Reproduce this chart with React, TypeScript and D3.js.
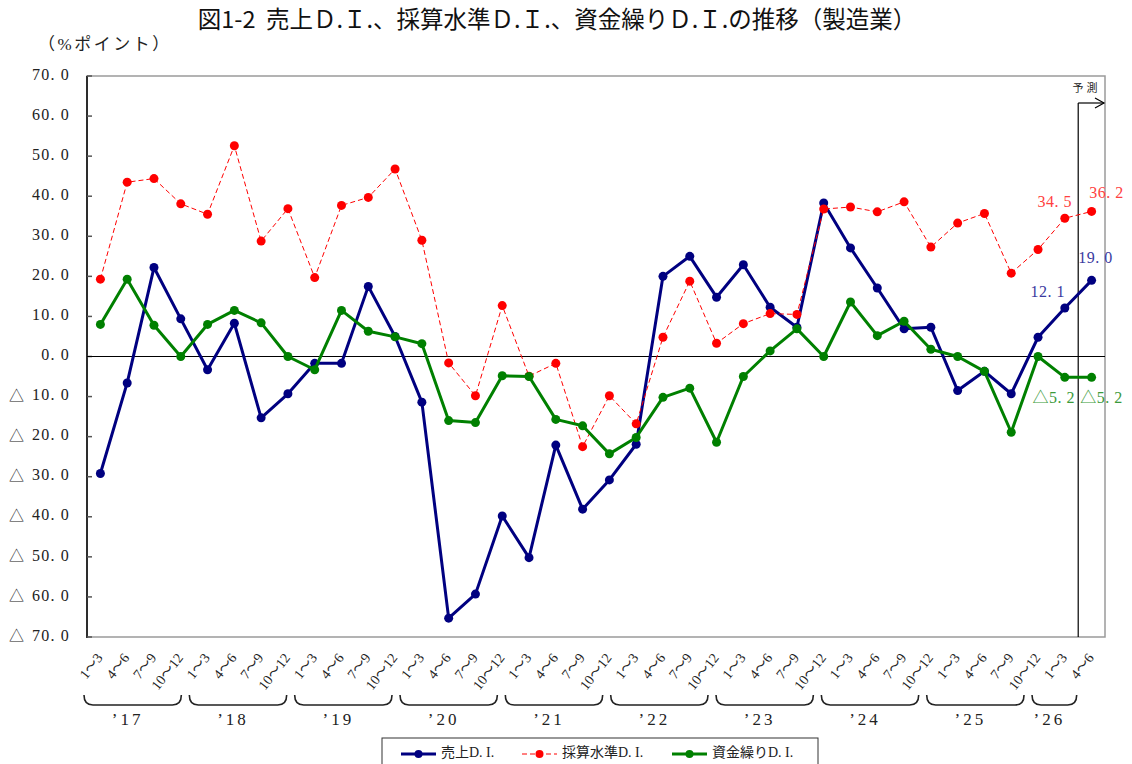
import React, { useEffect, useRef } from 'react';
import * as d3 from 'd3';

// 四半期・年（'26 は 1～3, 4～6 のみ）
const quarters = ['1～3', '4～6', '7～9', '10～12'];
const years = ['17', '18', '19', '20', '21', '22', '23', '24', '25', '26'];
const lastYearQuarters = 2;

// 売上D.I.
const salesDI = [
  -29.2, -6.6, 22.2, 9.4,
  -3.3, 8.3, -15.3, -9.3,
  -1.7, -1.7, 17.5, 5.0,
  -11.4, -65.3, -59.3, -39.8,
  -50.2, -22.1, -38.1, -30.8,
  -21.9, 20.0, 25.0, 14.8,
  22.9, 12.3, 7.3, 38.3,
  27.1, 17.1, 6.9, 7.3,
  -8.5, -3.7, -9.3, 4.8,
  12.1, 19.0,
];

// 採算水準D.I.
const profitDI = [
  19.3, 43.5, 44.4, 38.1,
  35.5, 52.6, 28.8, 36.9,
  19.7, 37.7, 39.7, 46.8,
  29.0, -1.6, -9.8, 12.7,
  -4.9, -1.7, -22.5, -9.8,
  -16.8, 4.8, 18.8, 3.3,
  8.2, 10.7, 10.5, 36.8,
  37.3, 36.1, 38.6, 27.3,
  33.3, 35.7, 20.8, 26.7,
  34.5, 36.2,
];

// 資金繰りD.I.
const cashDI = [
  8.0, 19.3, 7.8, 0.0,
  8.0, 11.5, 8.4, 0.0,
  -3.3, 11.5, 6.3, 4.9,
  3.2, -16.0, -16.5, -4.8,
  -5.0, -15.7, -17.3, -24.3,
  -20.2, -10.2, -7.9, -21.4,
  -5.0, 1.4, 6.9, 0.0,
  13.6, 5.2, 8.8, 1.8,
  0.0, -3.7, -18.9, 0.0,
  -5.2, -5.2,
];

const seriesNames = ['売上D.I.', '採算水準D.I.', '資金繰りD.I.'];
const forecastStart = 37; // 予測区間の最初の点

const fmt = (v: number) => (v < 0 ? '△' + Math.abs(v).toFixed(1) : v.toFixed(1));

const SERIF = '"Liberation Serif", "Noto Sans CJK JP", serif';
const GOTHIC = '"Noto Sans CJK JP", "Noto Sans", sans-serif';

export default function App() {
  const svgRef = useRef<SVGSVGElement | null>(null);

  useEffect(() => {
    document.body.style.margin = '0';
    if (!svgRef.current) return;
    const svg = d3.select(svgRef.current);
    svg.selectAll('*').remove();

    const width = 1132;
    const height = 764;
    const left = 87, right = 1105, top = 76, bottom = 637;

    svg.attr('width', width).attr('height', height).attr('viewBox', `0 0 ${width} ${height}`);
    svg.append('rect').attr('width', width).attr('height', height).attr('fill', '#fff');

    // カテゴリ
    const cats: { id: string; q: string; yi: number }[] = [];
    years.forEach((yr, yi) => {
      const n = yi === years.length - 1 ? lastYearQuarters : quarters.length;
      for (let k = 0; k < n; k++) cats.push({ id: `${yr}-${k}`, q: quarters[k], yi });
    });

    const x = d3.scaleBand<string>().domain(cats.map((c) => c.id)).range([left, right]);
    const bw = x.bandwidth();
    const cx = (i: number) => (x(cats[i].id) as number) + bw / 2;
    const y = d3.scaleLinear().domain([-70, 70]).range([bottom, top]);

    // 枠
    svg.append('rect')
      .attr('x', left).attr('y', top).attr('width', right - left).attr('height', bottom - top)
      .attr('fill', 'none').attr('stroke', '#9a9a9a').attr('stroke-width', 1.5);
    svg.append('line')
      .attr('x1', left).attr('x2', left).attr('y1', top).attr('y2', bottom + 1)
      .attr('stroke', '#000').attr('stroke-width', 1.5);

    // Y軸目盛
    const ticks = d3.range(-70, 71, 10);
    const yAxis = svg.append('g');
    ticks.forEach((t) => {
      yAxis.append('line')
        .attr('x1', left).attr('x2', left + 5).attr('y1', y(t)).attr('y2', y(t))
        .attr('stroke', '#555').attr('stroke-width', 1.5);
      yAxis.append('text')
        .attr('x', 70).attr('y', y(t)).attr('text-anchor', 'end').attr('dominant-baseline', 'middle')
        .attr('font-family', SERIF).attr('font-size', 16).attr('letter-spacing', 1.2).attr('fill', '#222')
        .text(Math.abs(t).toFixed(1).replace('.', '. '));
      if (t < 0) {
        yAxis.append('text')
          .attr('x', 9).attr('y', y(t)).attr('dominant-baseline', 'middle')
          .attr('font-family', GOTHIC).attr('font-size', 15).attr('fill', '#222')
          .text('△');
      }
    });

    svg.append('text')
      .attr('x', 38).attr('y', 46).attr('dominant-baseline', 'middle')
      .attr('font-family', SERIF).attr('font-size', 17).attr('letter-spacing', 2.5).attr('fill', '#222')
      .text('（%ポイント）');

    // ゼロ線
    svg.append('line')
      .attr('x1', left).attr('x2', right).attr('y1', y(0)).attr('y2', y(0))
      .attr('stroke', '#000').attr('stroke-width', 1);

    // 予測線
    const fx = x(cats[forecastStart].id) as number;
    const arrowY = 103;
    svg.append('line')
      .attr('x1', fx).attr('x2', fx).attr('y1', arrowY).attr('y2', bottom)
      .attr('stroke', '#000').attr('stroke-width', 1.2);
    svg.append('line')
      .attr('x1', fx).attr('x2', right - 1).attr('y1', arrowY).attr('y2', arrowY)
      .attr('stroke', '#000').attr('stroke-width', 1.2);
    svg.append('path')
      .attr('d', `M${right - 10},${arrowY - 5}L${right - 1},${arrowY}L${right - 10},${arrowY + 5}`)
      .attr('fill', 'none').attr('stroke', '#000').attr('stroke-width', 1.2);
    svg.append('text')
      .attr('x', (fx + right) / 2 - 5).attr('y', 89).attr('text-anchor', 'middle').attr('dominant-baseline', 'middle')
      .attr('font-family', GOTHIC).attr('font-size', 11).attr('letter-spacing', 3).attr('fill', '#222')
      .text('予測');

    // 系列
    const series = [
      { name: seriesNames[0], data: salesDI, color: '#000080', width: 3, dash: null as string | null, r: 4.5 },
      { name: seriesNames[1], data: profitDI, color: '#ff0000', width: 1, dash: '5,3', r: 4.5 },
      { name: seriesNames[2], data: cashDI, color: '#008000', width: 3, dash: null as string | null, r: 4.5 },
    ];

    const line = d3.line<number>().x((_, i) => cx(i)).y((d) => y(d));

    series.forEach((s) => {
      const g = svg.append('g');
      g.append('path')
        .datum(s.data)
        .attr('d', line)
        .attr('fill', 'none')
        .attr('stroke', s.color)
        .attr('stroke-width', s.width)
        .attr('stroke-linejoin', 'round')
        .attr('stroke-dasharray', s.dash);
      g.selectAll('circle')
        .data(s.data)
        .join('circle')
        .attr('cx', (_, i) => cx(i))
        .attr('cy', (d) => y(d))
        .attr('r', s.r)
        .attr('fill', s.color);
    });

    // データラベル（最後の2点）
    const labels = [
      { data: profitDI, i: 36, dx: -10, dy: -15, color: '#ff4040' },
      { data: profitDI, i: 37, dx: 15, dy: -17, color: '#ff4040' },
      { data: salesDI, i: 36, dx: -17, dy: -15, color: '#3a3aa0' },
      { data: salesDI, i: 37, dx: 4, dy: -21, color: '#3a3aa0' },
      { data: cashDI, i: 36, dx: -11, dy: 22, color: '#3a9a3a' },
      { data: cashDI, i: 37, dx: 10, dy: 22, color: '#3a9a3a' },
    ];
    labels.forEach((l) => {
      const v = l.data[l.i];
      svg.append('text')
        .attr('x', cx(l.i) + l.dx).attr('y', y(v) + l.dy)
        .attr('text-anchor', 'middle').attr('dominant-baseline', 'middle')
        .attr('font-family', SERIF).attr('font-size', 16).attr('letter-spacing', 0.5).attr('fill', l.color)
        .text(fmt(v).replace('.', '. '));
    });

    // X軸ラベル
    const xAxis = svg.append('g');
    cats.forEach((c, i) => {
      const px = cx(i) + 3;
      const py = 658;
      xAxis.append('text')
        .attr('transform', `translate(${px},${py}) rotate(-52)`)
        .attr('text-anchor', 'end')
        .attr('font-family', SERIF).attr('font-size', 14).attr('fill', '#222')
        .text(c.q);
    });

    // 年の括弧
    const bx = d3.scaleLinear().domain([left, right]).range([84, 84 + (right - left) * 0.983]);
    years.forEach((yr, yi) => {
      const idx = cats.map((c, i) => (c.yi === yi ? i : -1)).filter((i) => i >= 0);
      const s = bx(x(cats[idx[0]].id) as number);
      const e = bx((x(cats[idx[idx.length - 1]].id) as number) + bw) - 8;
      const t = 695, b = 705, r = 9;
      xAxis.append('path')
        .attr('d', `M${s},${t} Q${s},${b} ${s + r},${b} L${e - r},${b} Q${e},${b} ${e},${t}`)
        .attr('fill', 'none').attr('stroke', '#222').attr('stroke-width', 1.6);
      xAxis.append('text')
        .attr('x', (s + e) / 2 - 5).attr('y', 721).attr('text-anchor', 'middle').attr('dominant-baseline', 'middle')
        .attr('font-family', SERIF).attr('font-size', 17).attr('letter-spacing', 3).attr('fill', '#222')
        .text(`’${yr}`);
    });

    // 凡例
    const lg = svg.append('g');
    lg.append('rect')
      .attr('x', 382).attr('y', 738).attr('width', 436).attr('height', 40)
      .attr('fill', '#fff').attr('stroke', '#333').attr('stroke-width', 1);
    const legendX = [401, 522, 672];
    series.forEach((s, k) => {
      const lx = legendX[k];
      const ly = 754;
      lg.append('line')
        .attr('x1', lx).attr('x2', lx + 35).attr('y1', ly).attr('y2', ly)
        .attr('stroke', s.color).attr('stroke-width', s.width).attr('stroke-dasharray', s.dash);
      lg.append('circle').attr('cx', lx + 17.5).attr('cy', ly).attr('r', s.r - 0.5).attr('fill', s.color);
      lg.append('text')
        .attr('x', lx + 40).attr('y', ly).attr('dominant-baseline', 'middle')
        .attr('font-family', SERIF).attr('font-size', 14).attr('fill', '#222')
        .text(s.name.replace('D.I.', 'D. I.'));
    });

    // タイトル
    svg.append('text')
      .attr('x', 557).attr('y', 22).attr('text-anchor', 'middle').attr('dominant-baseline', 'middle')
      .attr('font-family', GOTHIC).attr('font-size', 23.5).attr('fill', '#111')
      .attr('xml:space', 'preserve').style('white-space', 'pre')
      .text('図1-2\u00a0\u00a0売上Ｄ.Ｉ.、採算水準Ｄ.Ｉ.、資金繰りＤ.Ｉ.の推移（製造業）');
  }, []);

  return (
    <div style={{ position: 'absolute', left: 0, top: 0 }}>
      <svg ref={svgRef} style={{ display: 'block' }} />
    </div>
  );
}
